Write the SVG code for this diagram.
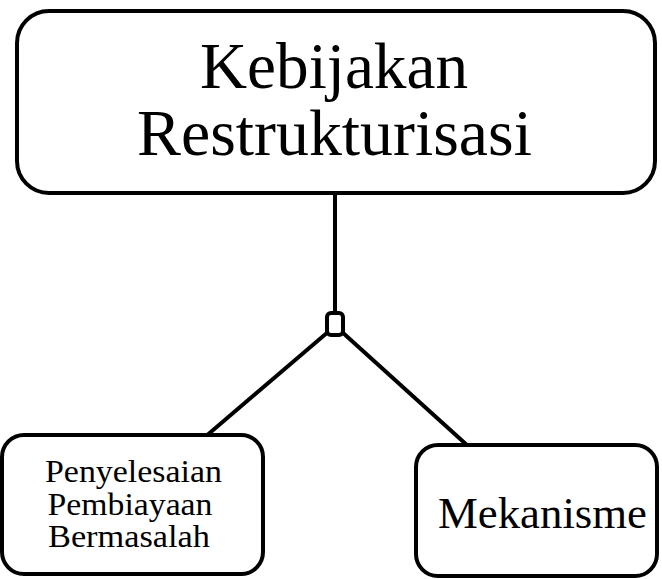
<svg xmlns="http://www.w3.org/2000/svg" width="662" height="579" viewBox="0 0 662 579">
<style>
.box{fill:#fff;stroke:#000;stroke-width:4}
.ln{stroke:#000;stroke-width:4;fill:none}
text{font-family:"Liberation Serif","Times New Roman",serif;fill:#000;text-anchor:middle}
.sm{font-size:31px}
</style>
<rect width="662" height="579" fill="#fff"/>
<g id="connectors">
<line class="ln" x1="335" y1="193" x2="335" y2="314"/>
<line class="ln" x1="328" y1="332" x2="205" y2="437"/>
<line class="ln" x1="342" y1="332" x2="468" y2="446"/>
<rect class="box" x="327" y="313" width="16" height="22" rx="4"/>
</g>
<g id="top">
<rect class="box" x="17" y="11" width="638" height="182" rx="32"/>
<text x="334" y="88" font-size="66" textLength="268" lengthAdjust="spacingAndGlyphs">Kebijakan</text>
<text x="334.5" y="155" font-size="66" textLength="395" lengthAdjust="spacingAndGlyphs">Restrukturisasi</text>
</g>
<g id="left">
<rect class="box" x="2" y="435" width="261" height="139" rx="22"/>
<text class="sm" x="133.5" y="482" textLength="177" lengthAdjust="spacingAndGlyphs">Penyelesaian</text>
<text class="sm" x="130" y="515" textLength="165" lengthAdjust="spacingAndGlyphs">Pembiayaan</text>
<text class="sm" x="129" y="547" textLength="162" lengthAdjust="spacingAndGlyphs">Bermasalah</text>
</g>
<g id="right">
<rect class="box" x="416" y="445" width="241" height="131" rx="22"/>
<text x="542.5" y="528" font-size="45" textLength="209" lengthAdjust="spacingAndGlyphs">Mekanisme</text>
</g>
</svg>
